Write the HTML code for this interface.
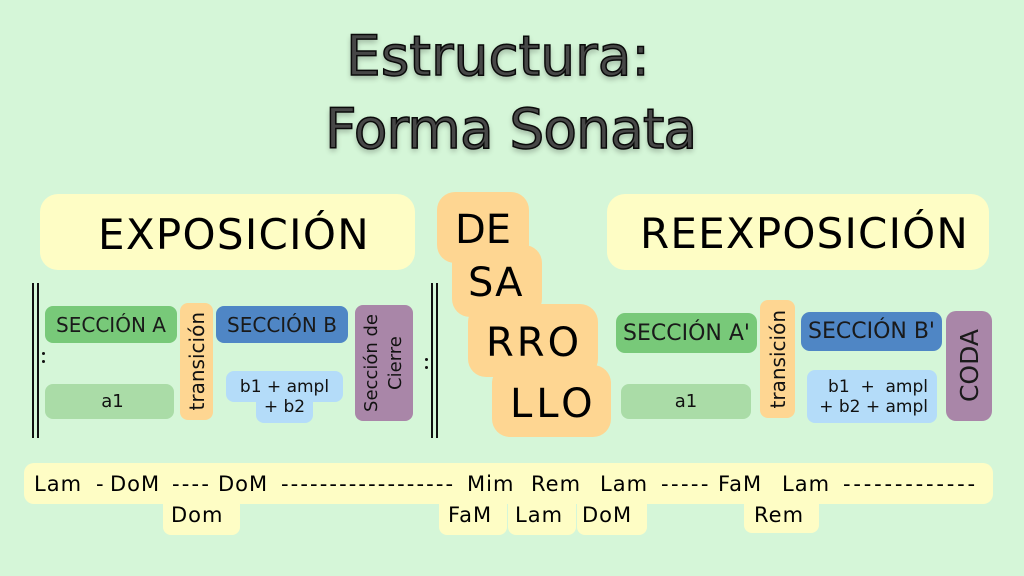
<!DOCTYPE html>
<html><head><meta charset="utf-8">
<style>
html,body{margin:0;padding:0}
body{width:1024px;height:576px;position:relative;overflow:hidden;background:#d5f6d8;font-family:"DejaVu Sans","Liberation Sans",sans-serif;color:#111}
.a{position:absolute}
.t{position:absolute;white-space:pre;line-height:1;color:#000}
.box{position:absolute;display:flex;align-items:center;justify-content:center;box-sizing:border-box}
.y{background:#fefdc5}
.o{background:#fed692}
.g{background:#78c979}
.lg{background:#aadca7}
.b{background:#4f86c5}
.lb{background:#b4dcf9}
.p{background:#a986a8}
.vr{writing-mode:vertical-rl;transform:rotate(180deg);text-align:center;white-space:pre}
.bar{position:absolute;width:2px;background:#111}
.dot{position:absolute;width:3px;height:3px;border-radius:50%;background:#111}
.title{position:absolute;white-space:pre;line-height:1;font-size:55px;color:#474747;-webkit-text-stroke:1.5px #0a0a0a;text-shadow:0 3px 6px rgba(0,0,0,.3)}
.sec{font-size:20px;color:#1a1a1a}
.bt{position:absolute;white-space:pre;line-height:1;font-size:21px;letter-spacing:1px;color:#000}
</style></head><body>

<div class="title" style="left:346px;top:28.5px">Estructura:</div>
<div class="title" style="left:325px;top:101.5px;letter-spacing:-0.9px">Forma Sonata</div>

<!-- Exposicion -->
<div class="a y" style="left:40px;top:194px;width:375px;height:76px;border-radius:18px"></div>
<div class="t" style="left:98px;top:213.5px;font-size:42px;letter-spacing:1.3px">EXPOSICIÓN</div>

<div class="bar" style="left:32px;top:283px;height:155px"></div>
<div class="bar" style="left:37px;top:283px;height:155px"></div>
<div class="dot" style="left:42px;top:352px"></div>
<div class="dot" style="left:42px;top:360px"></div>

<div class="box g sec" style="left:45px;top:306px;width:132px;height:37px;border-radius:8px">SECCIÓN A</div>
<div class="box lg" style="left:45px;top:384px;width:129px;height:35px;border-radius:8px;font-size:18px;padding-left:6px">a1</div>
<div class="box o" style="left:180px;top:303px;width:33px;height:117px;border-radius:8px"><span class="vr" style="font-size:20px">transición</span></div>
<div class="box b sec" style="left:216px;top:306px;width:132px;height:37px;border-radius:8px">SECCIÓN B</div>
<div class="a lb" style="left:226px;top:371px;width:117px;height:31px;border-radius:8px"></div>
<div class="a lb" style="left:256px;top:392px;width:57px;height:31px;border-radius:8px"></div>
<div class="a" style="left:226px;top:377px;width:117px;text-align:center;font-size:17px;line-height:20px;white-space:pre">b1 + ampl
+ b2</div>
<div class="box p" style="left:355px;top:305px;width:58px;height:116px;border-radius:8px"><span class="vr" style="font-size:18px;line-height:24px">Sección de
Cierre</span></div>

<div class="dot" style="left:425px;top:358px"></div>
<div class="dot" style="left:425px;top:366px"></div>
<div class="bar" style="left:431px;top:283px;height:155px"></div>
<div class="bar" style="left:436px;top:283px;height:155px"></div>

<!-- Desarrollo -->
<div class="a o" style="left:437px;top:192px;width:92px;height:71px;border-radius:18px"></div>
<div class="a o" style="left:452px;top:245px;width:90px;height:72px;border-radius:18px"></div>
<div class="a o" style="left:468px;top:304px;width:130px;height:73px;border-radius:18px"></div>
<div class="a o" style="left:492px;top:365px;width:119px;height:72px;border-radius:18px"></div>
<div class="t" style="left:455px;top:210px;font-size:40px">DE</div>
<div class="t" style="left:468px;top:263px;font-size:40px;letter-spacing:1px">SA</div>
<div class="t" style="left:486px;top:323px;font-size:40px;letter-spacing:3px">RRO</div>
<div class="t" style="left:510px;top:384px;font-size:40px;letter-spacing:4px">LLO</div>

<!-- Reexposicion -->
<div class="a y" style="left:607px;top:194px;width:382px;height:76px;border-radius:18px"></div>
<div class="t" style="left:640px;top:212.5px;font-size:42px;letter-spacing:1.2px">REEXPOSICIÓN</div>

<div class="box g" style="left:616px;top:313px;width:141px;height:40px;border-radius:9px;font-size:22px;color:#1a1a1a">SECCIÓN A'</div>
<div class="box lg" style="left:621px;top:384px;width:130px;height:35px;border-radius:8px;font-size:18px">a1</div>
<div class="box o" style="left:760px;top:300px;width:35px;height:118px;border-radius:8px"><span class="vr" style="font-size:20px">transición</span></div>
<div class="box b" style="left:801px;top:312px;width:141px;height:39px;border-radius:9px;font-size:22px;color:#1a1a1a">SECCIÓN B'</div>
<div class="a lb" style="left:807px;top:370px;width:130px;height:53px;border-radius:8px"></div>
<div class="a" style="left:807px;top:377px;width:121px;text-align:right;font-size:17px;line-height:20px;white-space:pre">b1  +  ampl
+ b2 + ampl</div>
<div class="box p" style="left:946px;top:311px;width:46px;height:110px;border-radius:10px"><span class="vr" style="font-size:25px;color:#1a1a1a">CODA</span></div>

<!-- Bottom tonal plan -->
<div class="a y" style="left:24px;top:463px;width:969px;height:41px;border-radius:10px"></div>
<div class="a y" style="left:163px;top:495px;width:77px;height:40px;border-radius:8px"></div>
<div class="a y" style="left:439px;top:495px;width:68px;height:40px;border-radius:8px"></div>
<div class="a y" style="left:508px;top:495px;width:68px;height:40px;border-radius:8px"></div>
<div class="a y" style="left:577px;top:495px;width:70px;height:40px;border-radius:8px"></div>
<div class="a y" style="left:744px;top:495px;width:75px;height:38px;border-radius:8px"></div>

<div class="bt" style="left:34px;top:474px">Lam</div>
<div class="bt" style="left:96px;top:474px">-</div>
<div class="bt" style="left:110px;top:474px">DoM</div>
<div class="bt" style="left:172px;top:474px;letter-spacing:2.2px">----</div>
<div class="bt" style="left:218px;top:474px">DoM</div>
<div class="bt" style="left:281px;top:474px;letter-spacing:2.1px">------------------</div>
<div class="bt" style="left:467px;top:474px">Mim</div>
<div class="bt" style="left:531px;top:474px">Rem</div>
<div class="bt" style="left:600px;top:474px">Lam</div>
<div class="bt" style="left:661px;top:474px;letter-spacing:2.4px">-----</div>
<div class="bt" style="left:718px;top:474px">FaM</div>
<div class="bt" style="left:782px;top:474px">Lam</div>
<div class="bt" style="left:843px;top:474px;letter-spacing:2.8px">-------------</div>

<div class="bt" style="left:171px;top:505px">Dom</div>
<div class="bt" style="left:448px;top:505px">FaM</div>
<div class="bt" style="left:515px;top:505px">Lam</div>
<div class="bt" style="left:582px;top:505px">DoM</div>
<div class="bt" style="left:754px;top:505px">Rem</div>

</body></html>
